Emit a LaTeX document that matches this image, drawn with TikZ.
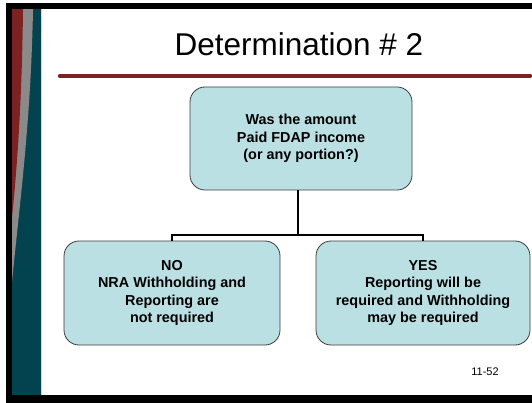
\documentclass[tikz,border=0pt]{standalone}
\usepackage{fontspec}
\setmainfont{Liberation Sans}
\definecolor{boxfill}{RGB}{187,224,227}
\definecolor{boxline}{RGB}{60,60,60}
\definecolor{teal1}{RGB}{3,66,79}
\definecolor{red1}{RGB}{125,34,34}
\definecolor{gray1}{RGB}{138,138,138}
\begin{document}
\begin{tikzpicture}[x=1pt,y=-1pt,
  decbox/.style={draw=boxline,line width=0.8pt,fill=boxfill,rounded corners=15pt,align=center,
    font=\bfseries\fontsize{14.4}{17.6}\selectfont,inner sep=0pt},
  conn/.style={line width=1.5pt,black}]
\useasboundingbox (0,0) rectangle (532,403);
\fill[white] (0,0) rectangle (532,403);
% left decorative strip
\fill[teal1] (12,9) rectangle (41,395);
\fill[gray1] (12,9) -- (33,9) .. controls (31,120) and (20,200) .. (12,282) -- cycle;
\fill[red1] (12,9) -- (23,9) .. controls (22,100) and (17,170) .. (12,217) -- cycle;
\draw[white!80!teal1,line width=0.6pt] (41.3,9) -- (41.3,395);
% frame
\fill[black] (6,3) rectangle (532,9);
\fill[black] (6,3) rectangle (12,403);
\fill[black] (6,395) rectangle (532,403);
% title
\node (title) at (299,44) {\fontsize{31.5}{37}\selectfont Determination \# 2};
\draw[red1,line width=4.5pt,line cap=round] (60,76) coordinate (ra) -- (530,76) coordinate (rb);
% boxes
\node[decbox,minimum width=222pt,minimum height=103pt] (top) at (301,138.5)
  {Was the amount\\Paid FDAP income\\(or any portion?)};
\node[decbox,minimum width=216pt,minimum height=104pt] (no) at (172,293)
  {NO\\NRA Withholding and\\Reporting are\\not required};
\node[decbox,minimum width=214pt,minimum height=104pt] (yes) at (423,293)
  {YES\\Reporting will be\\required and Withholding\\may be required};
\coordinate (j) at (298,235);
\draw[conn] (top.south -| j) -- (j);
\draw[conn] (no.north) |- (j) -| (yes.north);
\node (pg) at (485,372) {\fontsize{11}{13}\selectfont 11-52};
\end{tikzpicture}
\end{document}
